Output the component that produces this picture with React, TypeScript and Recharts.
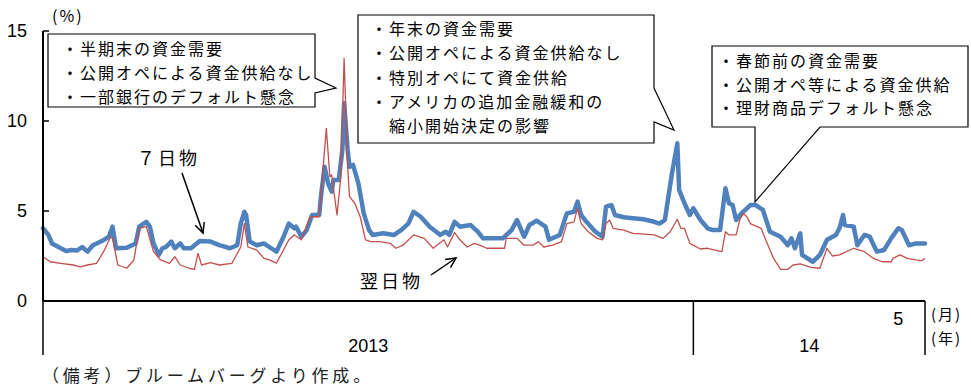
import { LineChart, Line, XAxis, YAxis } from "recharts";

// days counted from 2013-01-01, rates in %
const days7 = [
  0, 3, 5, 10, 13, 16, 19, 22, 25, 28, 33, 37, 39, 41, 47, 52, 54, 58, 60, 62,
  65, 67, 69, 72, 74, 77, 79, 83, 88, 94, 99, 105, 109, 111, 113, 114, 116, 120, 124, 127,
  131, 135, 138, 141, 142, 145, 148, 151, 155, 156, 158, 160, 162, 163, 166, 168, 169, 171, 172, 174,
  177, 180, 183, 185, 191, 197, 201, 205, 208, 212, 217, 223, 226, 228, 231, 234, 240, 244, 247, 253,
  258, 263, 266, 270, 273, 277, 282, 284, 290, 294, 298, 300, 302, 305, 310, 314, 316, 319, 321, 326,
  331, 337, 343, 346, 349, 351, 353, 356, 357, 360, 363, 365, 369, 373, 376, 380, 383, 385, 387, 389,
  392, 397, 400, 404, 408, 414, 418, 420, 422, 425, 426, 432, 436, 440, 445, 447, 449, 450, 455, 457,
  461, 464, 468, 472, 476, 480, 482, 486, 490, 495,
];
const rate7 = [
  4.04, 3.67, 3.2, 2.93, 2.78, 2.83, 2.8, 3.0, 2.74, 3.1, 3.33, 3.57, 4.13, 2.93, 2.96, 3.2, 4.13, 4.4, 4.13, 3.2,
  2.56, 2.93, 3.0, 3.3, 2.93, 3.2, 2.93, 2.93, 3.33, 3.3, 3.1, 2.93, 3.1, 4.3, 4.96, 4.78, 3.3, 3.1, 3.2, 3.0,
  2.74, 3.57, 4.3, 4.04, 4.13, 3.57, 3.94, 4.78, 4.78, 5.8, 7.46, 6.54, 6.07, 6.72, 6.72, 8.39, 10.98, 8.39, 7.46, 7.56,
  6.54, 4.87, 3.94, 3.67, 3.76, 3.67, 3.94, 4.3, 4.96, 4.68, 4.13, 3.67, 3.85, 3.67, 4.4, 4.13, 4.22, 3.85, 3.48, 3.48,
  3.48, 3.94, 4.5, 3.57, 4.22, 4.46, 4.13, 3.4, 3.67, 4.87, 4.96, 5.52, 4.78, 4.4, 3.85, 3.57, 5.24, 5.33, 4.78, 4.65,
  4.6, 4.54, 4.4, 4.3, 4.5, 5.8, 7.09, 8.76, 6.17, 5.43, 4.78, 5.15, 4.5, 4.04, 3.94, 3.94, 6.26, 5.43, 5.33, 4.5,
  4.87, 5.33, 5.33, 5.06, 3.85, 3.57, 3.1, 3.48, 2.93, 3.76, 2.56, 2.18, 2.56, 3.4, 3.67, 4.04, 4.78, 4.22, 4.13, 3.1,
  3.67, 3.57, 2.74, 2.83, 3.48, 4.04, 3.94, 3.1, 3.2, 3.2,
];

const daysOn = [
  0, 4, 10, 17, 21, 25, 30, 34, 38, 39, 42, 47, 51, 54, 58, 62, 66, 71, 74, 77,
  82, 85, 87, 89, 94, 99, 106, 111, 113, 115, 120, 124, 127, 131, 138, 141, 145, 150, 155, 159,
  161, 162, 165, 167, 169, 171, 172, 175, 178, 181, 184, 189, 195, 198, 202, 208, 214, 219, 225, 227,
  231, 234, 238, 242, 245, 249, 253, 259, 260, 266, 270, 275, 278, 281, 286, 291, 294, 298, 300, 302,
  306, 311, 314, 316, 318, 320, 326, 331, 343, 348, 352, 356, 358, 360, 363, 369, 373, 381, 383, 385,
  389, 391, 393, 395, 397, 403, 406, 410, 414, 418, 421, 425, 431, 436, 440, 443, 447, 455, 461, 466,
  471, 476, 477, 481, 485, 490, 493, 495,
];
const rateOn = [
  2.46, 2.18, 2.09, 2.0, 1.9, 2.0, 2.09, 2.74, 3.57, 3.48, 2.0, 1.82, 2.28, 4.04, 4.13, 2.74, 2.28, 2.09, 2.46, 2.0,
  1.82, 1.76, 2.65, 2.0, 2.13, 2.0, 2.09, 3.0, 4.3, 3.0, 2.83, 2.37, 2.28, 2.1, 3.4, 3.67, 3.4, 4.68, 4.68, 9.59,
  6.9, 7.0, 4.78, 6.72, 13.48, 7.46, 5.8, 5.43, 4.68, 3.4, 3.3, 3.3, 3.2, 2.93, 3.1, 3.67, 3.48, 2.93, 3.4, 3.0,
  3.8, 3.4, 3.0, 3.2, 3.1, 2.93, 2.93, 2.93, 3.48, 3.48, 3.1, 3.1, 3.3, 3.0, 3.1, 3.3, 4.3, 4.4, 5.15, 4.3,
  3.85, 3.48, 3.4, 4.3, 4.5, 4.04, 3.94, 3.76, 3.67, 3.48, 3.85, 4.54, 4.04, 4.04, 3.2, 2.89, 2.93, 2.74, 3.85, 3.67,
  3.67, 4.5, 4.87, 4.68, 4.3, 4.04, 3.3, 2.37, 1.76, 1.76, 2.0, 2.06, 1.87, 1.82, 2.93, 2.5, 2.56, 2.93, 2.74, 2.37,
  2.18, 2.18, 2.37, 2.56, 2.37, 2.28, 2.24, 2.37,
];

const yearStarts = [0, 365];
const lastDay = 495;
const yearLabels = ["2013", "14"];
const mayStart = 485;
const monthLabel = "5";
const yTicks = [0, 5, 10, 15];

const sevenDay = days7.map((d, i) => ({ day: d, rate: rate7[i] }));
const overnight = daysOn.map((d, i) => ({ day: d, rate: rateOn[i] }));

const yearMids = yearStarts.map((s, i) => (s + (yearStarts[i + 1] ?? lastDay)) / 2);
const boundaries = [...yearStarts, lastDay];
const xTicks = [...boundaries, ...yearMids, mayStart].sort((a, b) => a - b);

const NUM = '"Liberation Sans", Arial, sans-serif';
const JP = '"Noto Sans CJK JP", sans-serif';

const XTick = (props: any) => {
  const { x, y, payload } = props;
  const v = payload.value;
  if (boundaries.includes(v)) {
    return <line x1={x} x2={x} y1={y} y2={y + 54} stroke="#000" strokeWidth={1.5} />;
  }
  const yi = yearMids.indexOf(v);
  if (yi >= 0) {
    return (
      <text x={x} y={y + 51} textAnchor="middle" fontFamily={NUM} fontSize={18} fill="#000">
        {yearLabels[yi]}
      </text>
    );
  }
  if (v === mayStart) {
    return (
      <text x={x - 4} y={y + 24} textAnchor="end" fontFamily={NUM} fontSize={18} fill="#000">
        {monthLabel}
      </text>
    );
  }
  return null;
};

const YTick = (props: any) => {
  const { x, y, payload } = props;
  return (
    <g>
      <text x={x} y={y + 6} textAnchor="end" fontFamily={NUM} fontSize={18} fill="#000">
        {payload.value}
      </text>
      {payload.value > 0 && <line x1={x + 16} x2={x + 22} y1={y} y2={y} stroke="#000" strokeWidth={1.5} />}
    </g>
  );
};

const Callout = ({ path, lines, x, y0, step }: any) => (
  <g>
    <path d={path} fill="#fff" stroke="#000" strokeWidth={1.2} />
    {lines.map((t: string, i: number) => (
      <text
        key={i}
        x={x}
        y={y0 + i * step}
        dominantBaseline="central"
        fontFamily={JP}
        fontSize={16}
        letterSpacing={2}
        fill="#000"
      >
        {t}
      </text>
    ))}
  </g>
);

const Arrow = ({ x1, y1, x2, y2 }: any) => {
  const a = Math.atan2(y2 - y1, x2 - x1);
  const h = 11;
  const w = 0.45;
  return (
    <g stroke="#000" strokeWidth={1.5} fill="none">
      <line x1={x1} y1={y1} x2={x2} y2={y2} />
      <polyline
        points={`${x2 - h * Math.cos(a - w)},${y2 - h * Math.sin(a - w)} ${x2},${y2} ${x2 - h * Math.cos(a + w)},${y2 - h * Math.sin(a + w)}`}
      />
    </g>
  );
};

export default function App() {
  return (
    <div style={{ position: "absolute", left: 0, top: 0, width: 971, height: 387, background: "#fff" }}>
      <LineChart width={971} height={387} margin={{ top: 31, right: 46, left: 0, bottom: 0 }}>
        <XAxis
          dataKey="day"
          type="number"
          domain={[0, lastDay]}
          ticks={xTicks}
          interval={0}
          height={86}
          tickSize={0}
          tickMargin={0}
          tickLine={false}
          axisLine={{ stroke: "#000", strokeWidth: 2 }}
          tick={(p: any) => <XTick {...p} />}
        />
        <YAxis
          type="number"
          domain={[0, 15]}
          ticks={yTicks}
          interval={0}
          width={43}
          tickSize={0}
          tickMargin={16}
          tickLine={false}
          axisLine={{ stroke: "#000", strokeWidth: 2 }}
          tick={(p: any) => <YTick {...p} />}
        />
        <Line
          data={sevenDay}
          dataKey="rate"
          type="linear"
          stroke="#4F81BD"
          strokeWidth={4.5}
          strokeLinejoin="round"
          strokeLinecap="round"
          dot={false}
          isAnimationActive={false}
        />
        <Line
          data={overnight}
          dataKey="rate"
          type="linear"
          stroke="#C0504D"
          strokeWidth={1.3}
          strokeLinejoin="round"
          dot={false}
          isAnimationActive={false}
        />
      </LineChart>
      <svg width={971} height={387} style={{ position: "absolute", left: 0, top: 0, pointerEvents: "none" }}>
        <text x={52} y={15} dominantBaseline="central" fontFamily={JP} fontSize={16} letterSpacing={2}>(%)</text>
        <Callout
          path="M48,34 H315 V78 L336,88 L315,93 V107 H48 Z"
          lines={["・半期末の資金需要", "・公開オペによる資金供給なし", "・一部銀行のデフォルト懸念"]}
          x={62}
          y0={48}
          step={24}
        />
        <Callout
          path="M358,15 H654 V88 L674,130 L654,122 V143 H358 Z"
          lines={[
            "・年末の資金需要",
            "・公開オペによる資金供給なし",
            "・特別オペにて資金供給",
            "・アメリカの追加金融緩和の",
            "　縮小開始決定の影響",
          ]}
          x={371}
          y0={28}
          step={24.3}
        />
        <Callout
          path="M712,46 H968 V127 H820 L755,202 V127 H712 Z"
          lines={["・春節前の資金需要", "・公開オペ等による資金供給", "・理財商品デフォルト懸念"]}
          x={718}
          y0={60}
          step={23.5}
        />
        <text x={137} y={157} dominantBaseline="central" fontFamily={JP} fontSize={18} letterSpacing={3}>７日物</text>
        <Arrow x1={182} y1={173} x2={203} y2={233} />
        <text x={360} y={280} dominantBaseline="central" fontFamily={JP} fontSize={18} letterSpacing={3}>翌日物</text>
        <Arrow x1={431} y1={275} x2={456} y2={258} />
        <text x={931} y={313} dominantBaseline="central" fontFamily={JP} fontSize={15} letterSpacing={2}>(月)</text>
        <text x={931} y={337} dominantBaseline="central" fontFamily={JP} fontSize={15} letterSpacing={2}>(年)</text>
        <text x={42} y={374} dominantBaseline="central" fontFamily={JP} fontSize={17} letterSpacing={3.8} fill="#222">
          （備考）ブルームバーグより作成。
        </text>
      </svg>
    </div>
  );
}
